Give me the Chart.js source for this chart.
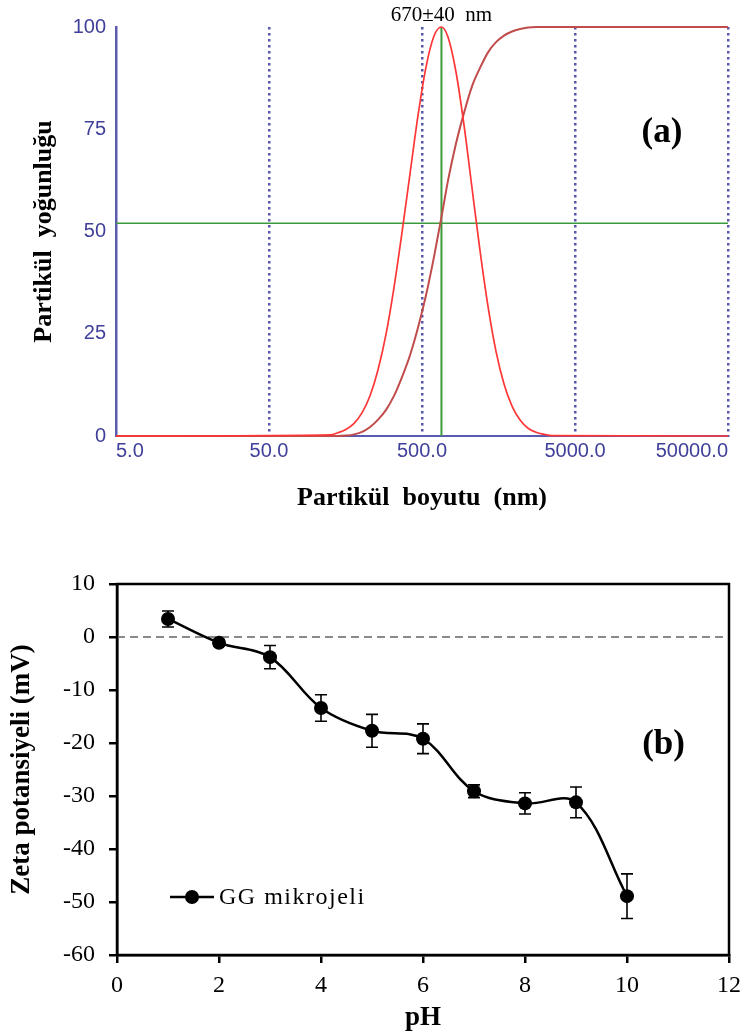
<!DOCTYPE html>
<html>
<head>
<meta charset="utf-8">
<script src="https://cdn.jsdelivr.net/npm/chart.js@4.4.1/dist/chart.umd.min.js"></script>
<style>
  html, body { margin: 0; padding: 0; background: #fff; }
  #wrapA { position: absolute; left: 0; top: 0; width: 749px; height: 530px; }
  #wrapB { position: absolute; left: 0; top: 545px; width: 749px; height: 491px; }
</style>
</head>
<body>
<div id="wrapA"><canvas id="chartA"></canvas></div>
<div id="wrapB"><canvas id="chartB"></canvas></div>
<script>
// ===== Data (a): particle size distribution =====
const sizeTicks = [5, 50, 500, 5000, 50000];
const densityTicks = [0, 25, 50, 75, 100];

const distSize  = [5, 125, 141, 159, 180, 203, 229, 258, 291, 328, 370, 418, 471, 531, 599, 670, 740, 834, 941, 1061, 1197, 1350, 1523, 1718, 1938, 2187, 2466, 2780, 3136, 3540, 50000];
const distValue = [0, 0.3, 0.8, 1.6, 3.1, 5.7, 9.9, 16.2, 24.9, 36.3, 49.7, 64.3, 78.4, 90.2, 97.8, 100, 97.5, 89, 76, 60.7, 45.3, 31.7, 20.7, 12.7, 7.3, 3.9, 1.9, 0.9, 0.4, 0.1, 0];

const cumSize  = [5, 141, 159, 180, 203, 229, 258, 291, 328, 370, 418, 471, 531, 599, 670, 740, 834, 941, 1061, 1197, 1350, 1523, 1718, 1938, 2187, 2466, 2780, 50000];
const cumValue = [0, 0, 0.1, 0.4, 1.0, 2.2, 4.0, 6.4, 9.8, 14.4, 19.8, 26.5, 34.4, 43.8, 53.5, 62.5, 71.5, 79, 85.5, 90, 93.8, 96.3, 97.9, 98.9, 99.5, 99.85, 100, 100];

const peakSize = 670;
const peakLabel = '670±40  nm';
const medianLevel = 52;

// ===== Data (b): zeta potential vs pH =====
const pHTicks = [0, 2, 4, 6, 8, 10, 12];
const zetaTicks = [-60, -50, -40, -30, -20, -10, 0, 10];
const pH      = [1, 2, 3, 4, 5, 6, 7, 8, 9, 10];
const zeta    = [3.4, -1.1, -3.8, -13.4, -17.7, -19.2, -29.1, -31.4, -31.2, -48.9];
const zetaErr = [1.5, 0.6, 2.2, 2.5, 3.1, 2.8, 1.2, 2.0, 2.9, 4.2];
const seriesName = 'GG mikrojeli';

const toXY = (xs, ys) => xs.map((x, i) => ({ x: x, y: ys[i] }));

const blueTick = '#40409a';
const blueAxis = '#5a5ab0';
const serif = 'Liberation Serif';

// ===== Chart (a) =====

const labelsA = {
    id: 'labelsA',
    afterDraw(chart) {
        const { ctx, chartArea: a, scales: { x } } = chart;
        ctx.save();
        ctx.fillStyle = '#000';
        ctx.textAlign = 'center';
        ctx.textBaseline = 'middle';
        ctx.font = '21px "' + serif + '"';
        ctx.fillText(peakLabel, x.getPixelForValue(peakSize), a.top - 12);
        ctx.font = 'bold 35px "' + serif + '"';
        ctx.fillText('(a)', a.left + (a.right - a.left) * 0.892, a.top + (a.bottom - a.top) * 0.26);
        ctx.restore();
    }
};

new Chart(document.getElementById('chartA'), {
    type: 'scatter',
    data: {
        datasets: [{
            label: 'median',
            data: [{ x: sizeTicks[0], y: medianLevel }, { x: sizeTicks[sizeTicks.length - 1], y: medianLevel }],
            borderColor: '#3c9a3c',
            borderWidth: 1.5,
            showLine: true,
            pointRadius: 0,
            order: 3
        }, {
            label: 'peak',
            data: [{ x: peakSize, y: 0 }, { x: peakSize, y: 100 }],
            borderColor: '#3c9a3c',
            borderWidth: 2,
            showLine: true,
            pointRadius: 0,
            order: 3
        }, {
            label: 'distribution',
            data: toXY(distSize, distValue),
            borderColor: '#ff3636',
            borderWidth: 1.7,
            showLine: true,
            pointRadius: 0,
            cubicInterpolationMode: 'monotone',
            clip: false,
            order: 1
        }, {
            label: 'cumulative',
            data: toXY(cumSize, cumValue),
            borderColor: '#c04c4c',
            borderWidth: 2,
            showLine: true,
            pointRadius: 0,
            cubicInterpolationMode: 'monotone',
            clip: false,
            order: 2
        }]
    },
    options: {
        responsive: true,
        maintainAspectRatio: false,
        animation: false,
        layout: { padding: { top: 27, right: 21, left: 0, bottom: 0 } },
        plugins: { legend: { display: false }, tooltip: { enabled: false } },
        scales: {
            x: {
                type: 'logarithmic',
                min: 5,
                max: 50000,
                afterBuildTicks: s => { s.ticks = sizeTicks.map(v => ({ value: v })); },
                afterFit: s => { s.height = 94; },
                ticks: {
                    align: 'inner',
                    padding: 3,
                    autoSkip: false,
                    maxRotation: 0,
                    color: blueTick,
                    font: { family: 'Liberation Sans', size: 20 },
                    callback: v => Number(v).toFixed(1)
                },
                grid: {
                    drawTicks: false,
                    lineWidth: 2.5,
                    color: c => (c.tick && c.tick.value === 5) ? 'rgba(0,0,0,0)' : '#5555aa'
                },
                border: { color: blueAxis, width: 2, dash: [2.5, 3.5] },
                title: {
                    display: true,
                    text: 'Partikül  boyutu  (nm)',
                    color: '#000',
                    font: { family: serif, size: 26, weight: 'bold' },
                    padding: { top: 0, bottom: 16 }
                }
            },
            y: {
                min: 0,
                max: 100,
                afterBuildTicks: s => { s.ticks = densityTicks.map(v => ({ value: v })); },
                afterFit: s => { s.width = 116; },
                ticks: {
                    padding: 10,
                    color: blueTick,
                    font: { family: 'Liberation Sans', size: 20 }
                },
                grid: { display: false, drawTicks: false },
                border: { color: blueAxis, width: 2.5 },
                title: {
                    display: true,
                    text: 'Partikül  yoğunluğu',
                    color: '#000',
                    font: { family: serif, size: 26, weight: 'bold' },
                    padding: { top: 29, bottom: 0 }
                }
            }
        }
    },
    plugins: [labelsA]
});

// ===== Chart (b) =====

const errorBars = {
    id: 'errorBars',
    beforeDatasetsDraw(chart) {
        const { ctx, scales: { x, y } } = chart;
        ctx.save();
        ctx.strokeStyle = '#000';
        ctx.lineWidth = 1.6;
        pH.forEach((p, i) => {
            const px = x.getPixelForValue(p);
            const top = y.getPixelForValue(zeta[i] + zetaErr[i]);
            const bot = y.getPixelForValue(zeta[i] - zetaErr[i]);
            ctx.beginPath();
            ctx.moveTo(px, top); ctx.lineTo(px, bot);
            ctx.moveTo(px - 6, top); ctx.lineTo(px + 6, top);
            ctx.moveTo(px - 6, bot); ctx.lineTo(px + 6, bot);
            ctx.stroke();
        });
        ctx.restore();
    }
};

const frameB = {
    id: 'frameB',
    afterDraw(chart) {
        const { ctx, chartArea: a } = chart;
        ctx.save();
        ctx.strokeStyle = '#000';
        ctx.lineWidth = 2.5;
        ctx.strokeRect(a.left, a.top, a.right - a.left, a.bottom - a.top);

        // (b) label
        ctx.fillStyle = '#000';
        ctx.textAlign = 'center';
        ctx.textBaseline = 'middle';
        ctx.font = 'bold 35px "' + serif + '"';
        ctx.fillText('(b)', a.left + (a.right - a.left) * 0.893, a.top + (a.bottom - a.top) * 0.434);

        // legend
        const lx = a.left + 53;
        const ly = a.top + 313;
        ctx.lineWidth = 2.5;
        ctx.beginPath();
        ctx.moveTo(lx, ly); ctx.lineTo(lx + 44, ly);
        ctx.stroke();
        ctx.beginPath();
        ctx.arc(lx + 22, ly, 7, 0, Math.PI * 2);
        ctx.fill();
        ctx.textAlign = 'left';
        ctx.font = '24px "' + serif + '"';
        ctx.letterSpacing = '1.5px';
        ctx.fillText(seriesName, lx + 49, ly + 1);
        ctx.restore();
    }
};

new Chart(document.getElementById('chartB'), {
    type: 'scatter',
    data: {
        datasets: [{
            label: 'zero',
            data: [{ x: pHTicks[0], y: 0 }, { x: pHTicks[pHTicks.length - 1], y: 0 }],
            borderColor: '#8a8a8a',
            borderWidth: 2,
            borderDash: [8, 5],
            showLine: true,
            pointRadius: 0,
            order: 2
        }, {
            label: seriesName,
            data: toXY(pH, zeta),
            borderColor: '#000',
            backgroundColor: '#000',
            borderWidth: 2.5,
            showLine: true,
            tension: 0.35,
            pointRadius: 7,
            pointBorderWidth: 0,
            order: 1
        }]
    },
    options: {
        responsive: true,
        maintainAspectRatio: false,
        animation: false,
        layout: { padding: { top: 39, right: 16, left: 0, bottom: 0 } },
        plugins: { legend: { display: false }, tooltip: { enabled: false } },
        scales: {
            x: {
                type: 'linear',
                min: 0,
                max: 12,
                afterBuildTicks: s => { s.ticks = pHTicks.map(v => ({ value: v })); },
                afterFit: s => { s.height = 81; },
                ticks: {
                    padding: 8,
                    color: '#000',
                    font: { family: serif, size: 24 }
                },
                grid: { drawOnChartArea: false, drawTicks: true, tickLength: 8, color: '#000', lineWidth: 2.5 },
                border: { color: '#000', width: 2.5 },
                title: {
                    display: true,
                    text: 'pH',
                    color: '#000',
                    font: { family: serif, size: 27, weight: 'bold' },
                    padding: { top: 0, bottom: 2 }
                }
            },
            y: {
                min: -60,
                max: 10,
                afterBuildTicks: s => { s.ticks = zetaTicks.map(v => ({ value: v })); },
                afterFit: s => { s.width = 117; },
                ticks: {
                    padding: 14,
                    color: '#000',
                    font: { family: serif, size: 24 }
                },
                grid: { drawOnChartArea: false, drawTicks: true, tickLength: 8, color: '#000', lineWidth: 2.5 },
                border: { color: '#000', width: 2.5 },
                title: {
                    display: true,
                    text: 'Zeta potansiyeli (mV)',
                    color: '#000',
                    font: { family: serif, size: 27, weight: 'bold' },
                    padding: { top: 6, bottom: 0 }
                }
            }
        }
    },
    plugins: [errorBars, frameB]
});
</script>
</body>
</html>
